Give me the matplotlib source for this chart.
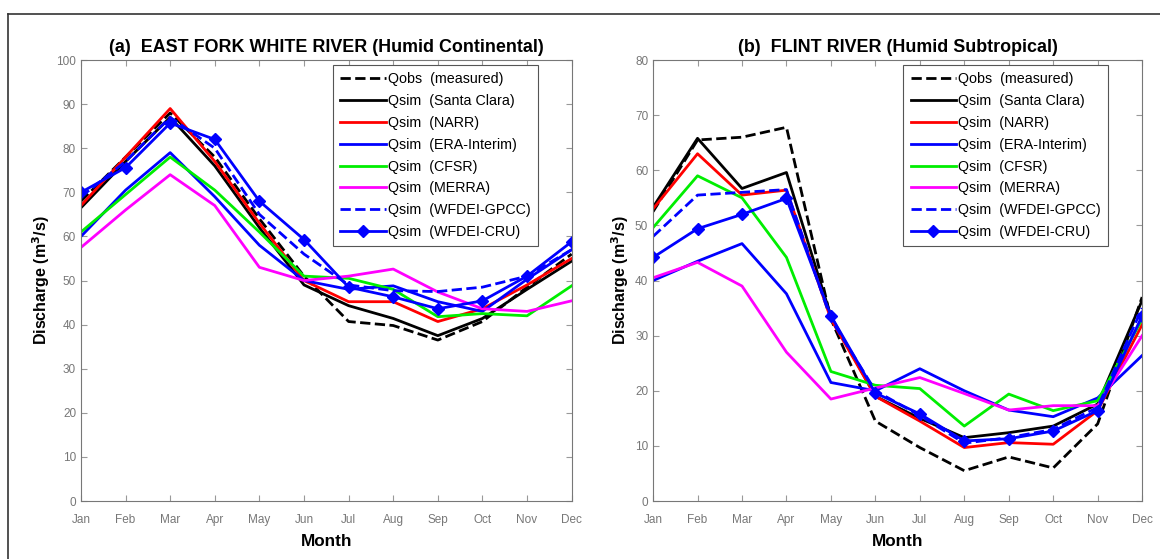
import matplotlib
matplotlib.use("Agg")
import matplotlib.pyplot as plt
from matplotlib.lines import Line2D

plt.rcParams['font.family'] = ['Liberation Sans', 'DejaVu Sans']

months = ['Jan', 'Feb', 'Mar', 'Apr', 'May', 'Jun', 'Jul', 'Aug', 'Sep', 'Oct', 'Nov', 'Dec']

# (a) East Fork White River, mean monthly discharge (m3/s)
qobs_a  = [68, 78, 88, 78, 64, 51, 40.7, 39.8, 36.5, 40.7, 48.5, 56]
sc_a    = [66.5, 77, 87, 76, 62, 49, 44.3, 41.4, 37.5, 41.4, 48, 54.4]
narr_a  = [67, 78, 89, 77, 63, 50, 45.2, 45.2, 40.7, 43.6, 49, 55]
era_a   = [60, 70.5, 79, 69, 58, 50, 48, 48.8, 45.2, 43, 50.3, 57]
cfsr_a  = [61, 69.5, 78, 70.5, 61, 51, 50.5, 48, 41.8, 42.5, 42, 48.8]
merra_a = [57.5, 66, 74, 67, 53, 50, 51, 52.6, 47.4, 43.6, 43, 45.4]
gpcc_a  = [69, 77, 87, 80, 65, 56, 49, 47.7, 47.5, 48.5, 51, 57]
cru_a   = [70, 75.6, 85.7, 82, 68, 59.3, 48.5, 46.3, 43.6, 45.4, 51, 58.8]

# (b) Flint River
qobs_b  = [52.5, 65.5, 66, 67.8, 33, 14.5, 9.7, 5.5, 8, 6, 14, 37]
sc_b    = [53.3, 65.8, 56.7, 59.6, 33.5, 19, 15, 11.5, 12.4, 13.6, 17.6, 36.4]
narr_b  = [53, 63, 55.5, 56.4, 33, 19, 14.5, 9.7, 10.6, 10.3, 16.4, 32]
era_b   = [40, 43.5, 46.7, 37.6, 21.5, 20, 24, 20, 16.5, 15.3, 18.7, 26.4]
cfsr_b  = [49.6, 59, 55, 44.2, 23.5, 21, 20.4, 13.6, 19.4, 16.4, 18.2, 33]
merra_b = [40.5, 43.3, 39, 27, 18.5, 20.5, 22.4, 19.5, 16.5, 17.3, 17.3, 30]
gpcc_b  = [48, 55.5, 56, 56.5, 33, 20, 15.5, 10.5, 11.5, 13, 17, 35]
cru_b   = [44.2, 49.4, 52, 54.9, 33.6, 19.6, 15.8, 10.9, 11.3, 12.7, 16.4, 33.6]

labels = ['Qobs  (measured)', 'Qsim  (Santa Clara)', 'Qsim  (NARR)', 'Qsim  (ERA-Interim)',
          'Qsim  (CFSR)', 'Qsim  (MERRA)', 'Qsim  (WFDEI-GPCC)', 'Qsim  (WFDEI-CRU)']
styles = [dict(color='k', ls='--'),
          dict(color='k', ls='-'),
          dict(color='r', ls='-'),
          dict(color='b', ls='-'),
          dict(color='#00ee00', ls='-'),
          dict(color='#ff00ff', ls='-'),
          dict(color='b', ls='--'),
          dict(color='b', ls='-', marker='D', ms=6)]


def panel(ax, series, title, ymax):
    x = range(1, 13)
    for s, lab, st in zip(series, labels, styles):
        ax.plot(x, s, lw=2, label=lab, **st)
    ax.set_xlim(1, 12)
    ax.set_ylim(0, ymax)
    ax.set_xticks(list(x))
    ax.set_xticklabels(months)
    ax.set_yticks(range(0, ymax + 1, 10))
    ax.tick_params(direction='in', top=True, right=True, labelsize=8.5,
                   labelcolor='#777777', color='#999999', length=4)
    ax.tick_params(axis='x', pad=9)
    for sp in ax.spines.values():
        sp.set_color('#777777')
    ax.set_title(title, fontsize=12.9, fontweight='bold', pad=6)
    ax.set_xlabel('Month', fontsize=12.3, fontweight='bold', labelpad=6)
    ax.set_ylabel(r'Discharge (m$^\mathbf{3}$/s)', fontsize=11.5, fontweight='bold', labelpad=3)
    leg = ax.legend(loc='upper right', bbox_to_anchor=(0.931, 0.989), borderaxespad=0,
                    fontsize=10.3, handlelength=3.2, handletextpad=0.15, labelspacing=0.55,
                    borderpad=0.5, fancybox=False, framealpha=1, edgecolor='#555555')
    leg.get_frame().set_linewidth(0.8)


fig = plt.figure(figsize=(11.6, 5.59), dpi=100)
ax1 = fig.add_axes([0.0698, 0.1037, 0.423, 0.7889])
ax2 = fig.add_axes([0.563, 0.1037, 0.4216, 0.7889])

panel(ax1, [qobs_a, sc_a, narr_a, era_a, cfsr_a, merra_a, gpcc_a, cru_a],
      '(a)  EAST FORK WHITE RIVER (Humid Continental)', 100)
panel(ax2, [qobs_b, sc_b, narr_b, era_b, cfsr_b, merra_b, gpcc_b, cru_b],
      '(b)  FLINT RIVER (Humid Subtropical)', 80)

# outer frame (top and left edges)
fig.add_artist(Line2D([0.007, 1.0], [0.975, 0.975], color='#333333', lw=1.2))
fig.add_artist(Line2D([0.007, 0.007], [0.0, 0.975], color='#333333', lw=1.2))

fig.savefig('out.png', dpi=100)
